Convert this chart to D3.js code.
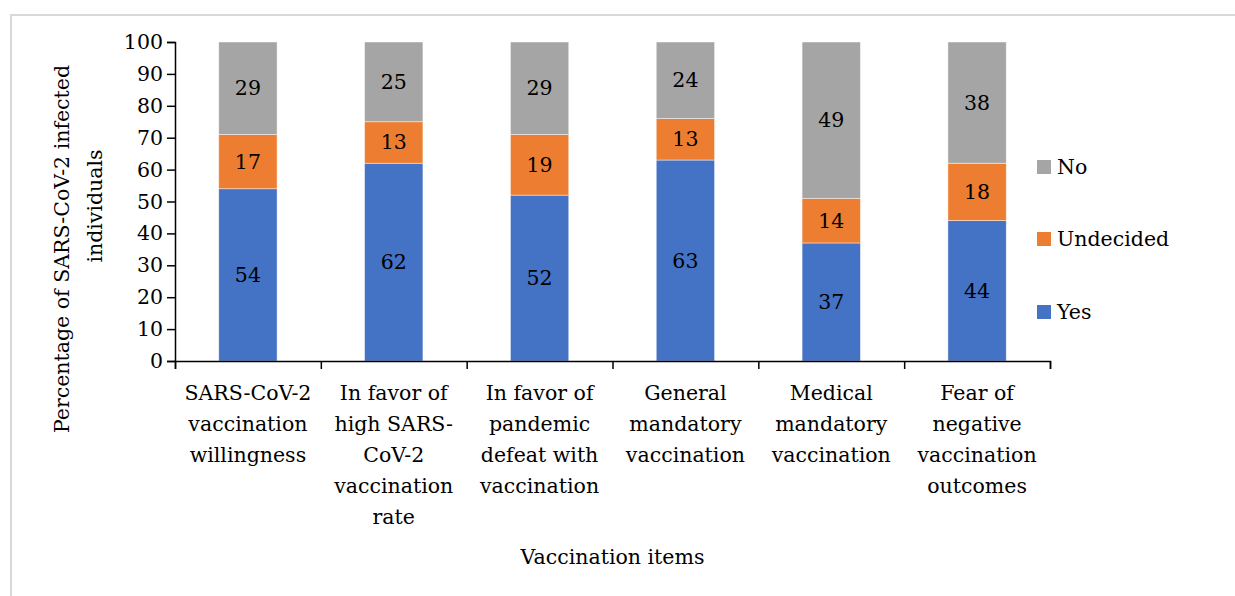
<!DOCTYPE html>
<html>
<head>
<meta charset="utf-8">
<script src="https://cdn.jsdelivr.net/npm/d3@7"></script>
<style>
  body { margin: 0; background: #fff; }
  svg text { font-family: "DejaVu Serif", "Liberation Serif", serif; fill: #000; }
</style>
</head>
<body>
<svg width="1235" height="596"></svg>
<script>
// chart data
var categories = [
	["SARS-CoV-2", "vaccination", "willingness"],
	["In favor of", "high SARS-", "CoV-2", "vaccination", "rate"],
	["In favor of", "pandemic", "defeat with", "vaccination"],
	["General", "mandatory", "vaccination"],
	["Medical", "mandatory", "vaccination"],
	["Fear of", "negative", "vaccination", "outcomes"]
];
var yesValues = [54, 62, 52, 63, 37, 44];
var undecidedValues = [17, 13, 19, 13, 14, 18];
var noValues = [29, 25, 29, 24, 49, 38];
var seriesNames = ["Yes", "Undecided", "No"];
var seriesColors = ["#4472C4", "#ED7D31", "#A5A5A5"];
var yTicks = [0, 10, 20, 30, 40, 50, 60, 70, 80, 90, 100];

var svg = d3.select("svg"),
	width = +svg.attr("width"),
	height = +svg.attr("height");

var fontSize = 20.5;

// outer frame
svg.append("rect")
	.attr("x", 11).attr("y", 15)
	.attr("width", width + 20).attr("height", height + 20)
	.attr("fill", "none")
	.attr("stroke", "#d9d9d9")
	.attr("stroke-width", 2);

var margin = {left: 175, right: 185, top: 42, bottom: 235};

var x = d3.scaleBand()
	.domain(d3.range(categories.length))
	.range([margin.left, width - margin.right])
	.paddingInner(0.6)
	.paddingOuter(0.3);

var y = d3.scaleLinear()
	.domain([0, 100])
	.range([height - margin.bottom, margin.top]);

// build stacked table
var table = categories.map(function(c, i) {
	return {idx: i, Yes: yesValues[i], Undecided: undecidedValues[i], No: noValues[i]};
});
var stacked = d3.stack().keys(seriesNames)(table);

var layer = svg.append("g")
	.selectAll("g")
	.data(stacked)
	.enter().append("g")
	.attr("fill", function(d, i) { return seriesColors[i]; });

layer.selectAll("rect")
	.data(function(d) { return d; })
	.enter().append("rect")
	.attr("x", function(d) { return x(d.data.idx); })
	.attr("y", function(d) { return y(d[1]); })
	.attr("width", x.bandwidth())
	.attr("height", function(d) { return y(d[0]) - y(d[1]); })
	.attr("stroke", "#fff")
	.attr("stroke-opacity", 0.6)
	.attr("stroke-width", 0.75);

// value labels
layer.selectAll("text")
	.data(function(d) { return d; })
	.enter().append("text")
	.attr("x", function(d) { return x(d.data.idx) + x.bandwidth() / 2; })
	.attr("y", function(d) { return y((d[0] + d[1]) / 2); })
	.attr("text-anchor", "middle")
	.attr("dominant-baseline", "central")
	.style("font-size", fontSize + "px")
	.text(function(d) { return d[1] - d[0]; });

// y axis
var yAxis = svg.append("g")
	.attr("transform", "translate(" + margin.left + ",0)")
	.call(d3.axisLeft(y).tickValues(yTicks).tickSize(8).tickPadding(4));
yAxis.select(".domain").attr("stroke", "#000").attr("stroke-width", 1.5);
yAxis.selectAll(".tick line").attr("stroke", "#000").attr("stroke-width", 1.5);
yAxis.selectAll(".tick text")
	.style("font-size", fontSize + "px")
	.style("font-family", "DejaVu Serif");

// x axis with ticks at category boundaries
var xEdge = d3.scaleLinear().domain([0, categories.length]).range([margin.left, width - margin.right]);
var xAxis = svg.append("g")
	.attr("transform", "translate(0," + y(0) + ")")
	.call(d3.axisBottom(xEdge).tickValues(d3.range(categories.length + 1)).tickSize(8).tickFormat(""));
xAxis.select(".domain").attr("stroke", "#000").attr("stroke-width", 1.5);
xAxis.selectAll(".tick line").attr("stroke", "#000").attr("stroke-width", 1.5);

// category labels
var catLabels = svg.append("g")
	.selectAll("text")
	.data(categories)
	.enter().append("text")
	.attr("text-anchor", "middle")
	.style("font-size", fontSize + "px");

catLabels.each(function(lines, i) {
	var t = d3.select(this);
	lines.forEach(function(line, j) {
		t.append("tspan")
			.attr("x", x(i) + x.bandwidth() / 2)
			.attr("y", 393 + j * 31)
			.attr("dominant-baseline", "central")
			.text(line);
	});
});

// axis titles
svg.append("text")
	.attr("x", (margin.left + width - margin.right) / 2)
	.attr("y", 557)
	.attr("text-anchor", "middle")
	.attr("dominant-baseline", "central")
	.style("font-size", fontSize + "px")
	.text("Vaccination items");

svg.append("text")
	.attr("transform", "translate(62,249) rotate(-90)")
	.attr("text-anchor", "middle")
	.attr("dominant-baseline", "central")
	.style("font-size", fontSize + "px")
	.text("Percentage of SARS-CoV-2 infected");

svg.append("text")
	.attr("transform", "translate(95,206) rotate(-90)")
	.attr("text-anchor", "middle")
	.attr("dominant-baseline", "central")
	.style("font-size", fontSize + "px")
	.text("individuals");

// legend (No on top)
var legendY = {No: 167, Undecided: 239, Yes: 312};
var legend = svg.append("g")
	.selectAll("g")
	.data(seriesNames.slice().reverse())
	.enter().append("g")
	.attr("transform", function(d) { return "translate(1037," + legendY[d] + ")"; });

legend.append("rect")
	.attr("x", 0).attr("y", -7)
	.attr("width", 14).attr("height", 14)
	.attr("fill", function(d) { return seriesColors[seriesNames.indexOf(d)]; });

legend.append("text")
	.attr("x", 20)
	.attr("dominant-baseline", "central")
	.style("font-size", fontSize + "px")
	.text(function(d) { return d; });
</script>
</body>
</html>
